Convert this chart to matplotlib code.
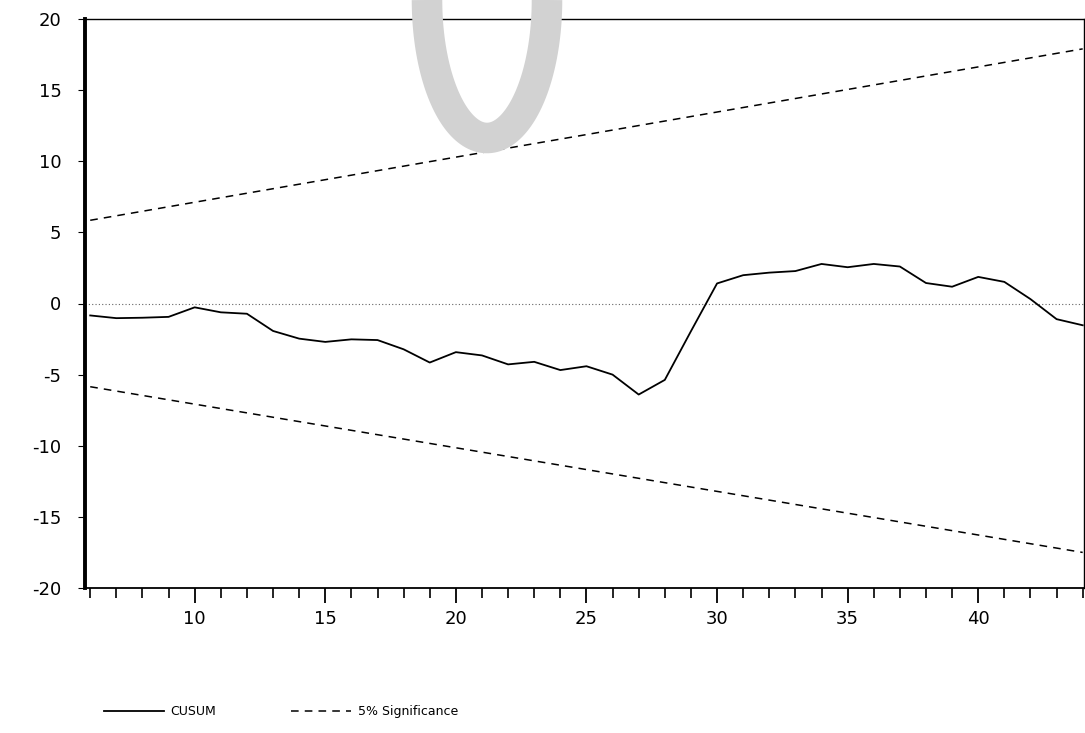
import numpy as np
import matplotlib
matplotlib.use("Agg")
import matplotlib.pyplot as plt

# CUSUM test (recursive residuals)
obs = [6, 7, 8, 9, 10, 11, 12, 13, 14, 15, 16, 17, 18, 19, 20, 21, 22, 23, 24, 25,
       26, 27, 28, 29, 30, 31, 32, 33, 34, 35, 36, 37, 38, 39, 40, 41, 42, 43, 44]
cusum = [-0.84, -1.03, -1.00, -0.94, -0.27, -0.62, -0.72, -1.93, -2.47, -2.70,
         -2.52, -2.57, -3.22, -4.15, -3.42, -3.65, -4.28, -4.10, -4.68, -4.41,
         -5.00, -6.40, -5.37, -1.95, 1.41, 1.99, 2.17, 2.28, 2.78, 2.55,
         2.78, 2.60, 1.44, 1.18, 1.87, 1.52, 0.31, -1.10, -1.53]

# 5% significance bounds (straight lines between first and last obs)
sig_x = [6, 44]
sig_upper = [5.85, 17.9]
sig_lower = [-5.85, -17.5]

yticks = [-20, -15, -10, -5, 0, 5, 10, 15, 20]
xticks = [10, 15, 20, 25, 30, 35, 40]

fig = plt.figure(figsize=(10.85, 7.33), dpi=100)
ax = fig.add_axes([85/1085, 1 - 588/733, 999/1085, 569/733])

ax.axhline(0, color="#666666", lw=0.8, ls=(0, (1, 2)))
ax.plot(obs, cusum, color="black", lw=1.3, label="CUSUM")
ax.plot(sig_x, sig_upper, color="black", lw=1.1, ls=(0, (5, 4)), label="5% Significance")
ax.plot(sig_x, sig_lower, color="black", lw=1.1, ls=(0, (5, 4)))

ax.set_xlim(5.8, 44.05)
ax.set_ylim(-20, 20)
ax.set_yticks(yticks)
ax.set_yticklabels([str(t) for t in yticks])
ax.set_xticks(xticks)
ax.set_xticks(range(6, 45), minor=True)
ax.tick_params(axis="y", direction="out", length=5, width=0.8, labelsize=13, pad=12)
ax.tick_params(axis="x", which="major", direction="out", length=11, width=1.3,
               labelsize=13, pad=5)
ax.tick_params(axis="x", which="minor", direction="out", length=7, width=1.2)

ax.spines["left"].set_linewidth(2.8)
ax.spines["bottom"].set_linewidth(1.3)
ax.spines["top"].set_linewidth(1.0)
ax.spines["top"].set_linestyle((0, (2, 1)))
ax.spines["right"].set_linewidth(1.0)

fig.legend(loc="lower left", bbox_to_anchor=(93/1085, 0.005), ncol=2, frameon=False,
           fontsize=9, handlelength=4.8, columnspacing=6, handletextpad=0.5)

# grey scan mark at the top of the page
over = fig.add_axes([0, 0, 1, 1], facecolor="none")
over.set_xlim(0, 1085)
over.set_ylim(733, 0)
over.axis("off")
t = np.linspace(0, np.pi, 100)
over.plot(487 + 60*np.cos(t), 0 + 138*np.sin(t), color="#d2d2d2", lw=22,
          solid_capstyle="butt")

fig.savefig("out.png", dpi=100)
